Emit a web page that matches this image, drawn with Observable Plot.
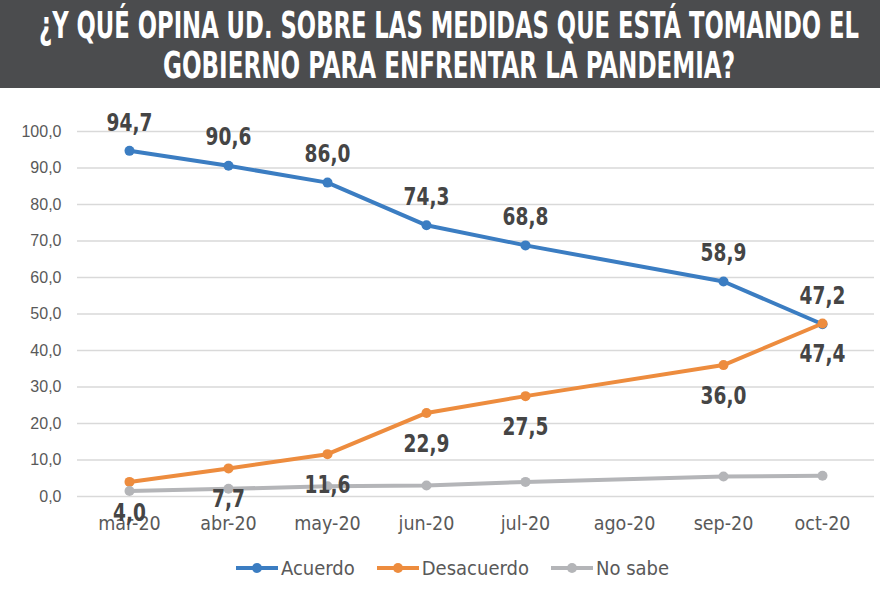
<!DOCTYPE html>
<html><head><meta charset="utf-8">
<script src="https://cdn.jsdelivr.net/npm/d3@7"></script>
<script src="https://cdn.jsdelivr.net/npm/@observablehq/plot@0.6"></script>
<style>
body{margin:0;background:#fff;width:880px;height:595px;overflow:hidden}
#title{background:#4b4c4e;color:#fff;height:88px;box-sizing:border-box;padding-top:5px;overflow:hidden;
 font-family:"DejaVu Sans Condensed",sans-serif;font-weight:bold;font-size:38px;line-height:40px}
#title div{white-space:nowrap;display:flex;justify-content:center;width:880px;position:relative;left:9px}
#title span{display:inline-block;transform-origin:center;flex:none}
#legend{display:flex;justify-content:center;align-items:center;gap:21px;margin-top:8px;padding-left:24px;
 font-family:"DejaVu Sans Condensed",sans-serif;font-size:20px;color:#595959}
#legend span{display:flex;align-items:center;gap:2px}
</style></head><body>
<div id="title"><div><span data-w="820">¿Y QUÉ OPINA UD. SOBRE LAS MEDIDAS QUE ESTÁ TOMANDO EL</span></div><div><span data-w="572">GOBIERNO PARA ENFRENTAR LA PANDEMIA?</span></div></div>
<div id="chart"></div>
<div id="legend"></div>
<script>
const months = ["mar-20","abr-20","may-20","jun-20","jul-20","ago-20","sep-20","oct-20"];
const surveyMonths = ["mar-20","abr-20","may-20","jun-20","jul-20","sep-20","oct-20"];
const acuerdo = [94.7, 90.6, 86.0, 74.3, 68.8, 58.9, 47.2];
const desacuerdo = [4.0, 7.7, 11.6, 22.9, 27.5, 36.0, 47.4];
const noSabe = [1.5, 2.1, 2.8, 3.0, 4.0, 5.5, 5.7];
const seriesNames = ["Acuerdo", "Desacuerdo", "No sabe"];
const colors = ["#3b7dc2", "#ed8c3e", "#b4b5b8"];
const yTicks = d3.range(0, 101, 10);

document.querySelectorAll("#title span").forEach(s => {
  const w = s.getBoundingClientRect().width;
  s.style.transform = `scaleX(${(+s.dataset.w) / w})`;
});

const mk = (vals) => surveyMonths.map((m, i) => ({m, v: vals[i]}));
const dA = mk(acuerdo), dD = mk(desacuerdo), dN = mk(noSabe);
const fmt = v => v.toFixed(1).replace(".", ",");
const narrow = '"DejaVu Sans Condensed",sans-serif';

const plot = Plot.plot({
  width: 880, height: 460,
  marginLeft: 77, marginRight: 6, marginTop: 43, marginBottom: 52,
  style: {fontFamily: '"Liberation Sans",Arial,sans-serif', background: "#fff"},
  x: {type: "point", domain: months, padding: 0.5},
  y: {domain: [0, 100]},
  marks: [
    Plot.gridY(yTicks, {stroke: "#d9d9d9", strokeOpacity: 1, strokeWidth: 1.3}),
    Plot.axisY(yTicks, {tickSize: 0, tickPadding: 16, tickFormat: fmt, fontSize: 16, fill: "#595959", label: null}),
    Plot.axisX(months, {tickSize: 0, tickPadding: 20, fontSize: 19.5, fill: "#595959", label: null, fontFamily: narrow}),
    Plot.line(dA, {x: "m", y: "v", stroke: colors[0], strokeWidth: 4}),
    Plot.dot(dA, {x: "m", y: "v", fill: colors[0], r: 5}),
    Plot.line(dD, {x: "m", y: "v", stroke: colors[1], strokeWidth: 4}),
    Plot.dot(dD, {x: "m", y: "v", fill: colors[1], r: 5}),
    Plot.line(dN, {x: "m", y: "v", stroke: colors[2], strokeWidth: 4}),
    Plot.dot(dN, {x: "m", y: "v", fill: colors[2], r: 5}),
    Plot.text(dA, {x: "m", y: "v", text: d => fmt(d.v), dy: -28, fontSize: 24, fontWeight: "bold", fill: "#454545", fontFamily: narrow, className: "lbl"}),
    Plot.text(dD, {x: "m", y: "v", text: d => fmt(d.v), dy: 31, fontSize: 24, fontWeight: "bold", fill: "#454545", fontFamily: narrow, className: "lbl"})
  ]
});
document.getElementById("chart").appendChild(plot);
plot.querySelectorAll(".lbl text").forEach(t => {
  const tr = t.getAttribute("transform") || "";
  t.setAttribute("transform", tr + " scale(0.86,1)");
});

const leg = document.getElementById("legend");
seriesNames.forEach((n, i) => {
  const s = document.createElement("span");
  s.innerHTML = `<svg width="44" height="12"><line x1="1" y1="6" x2="43" y2="6" stroke="${colors[i]}" stroke-width="4"/><circle cx="22" cy="6" r="5" fill="${colors[i]}"/></svg>${n}`;
  leg.appendChild(s);
});
</script>
</body></html>
